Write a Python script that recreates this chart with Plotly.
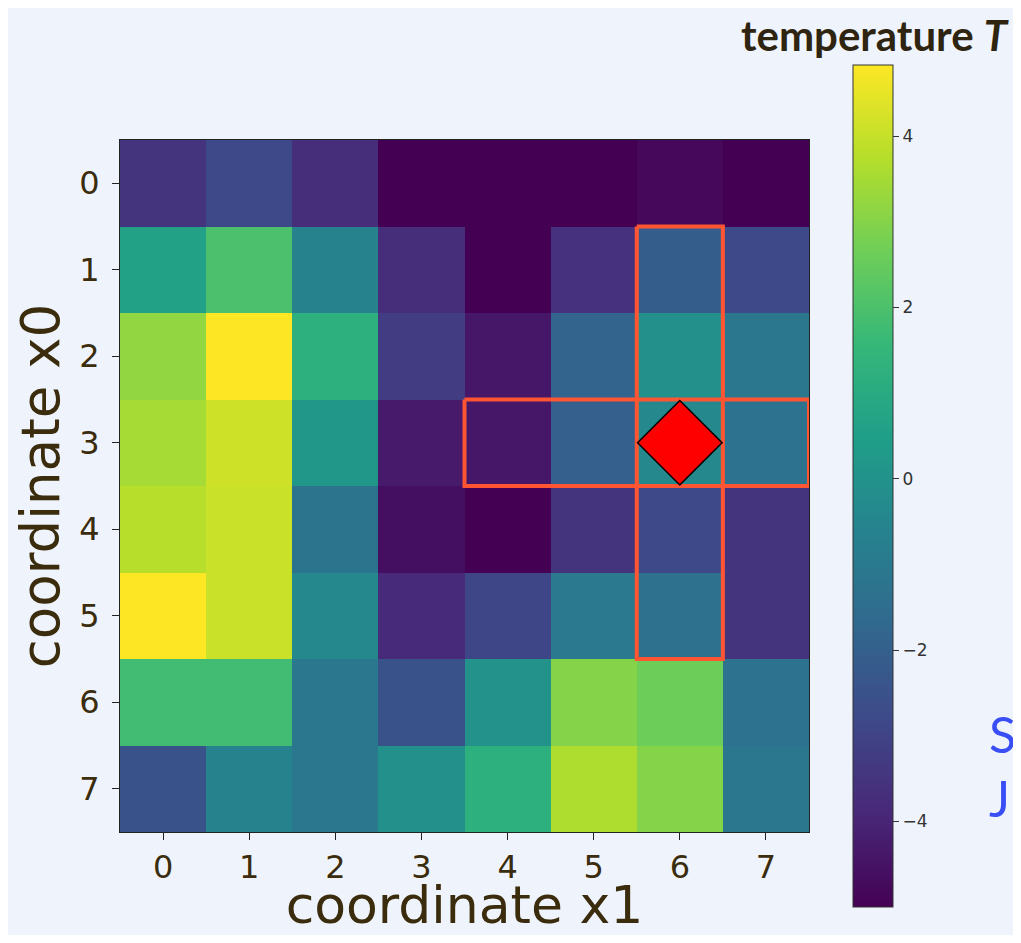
import plotly.graph_objects as go

# ---- data ----
x_labels = [0, 1, 2, 3, 4, 5, 6, 7]   # coordinate x1 (columns)
y_labels = [0, 1, 2, 3, 4, 5, 6, 7]   # coordinate x0 (rows)
temperature = [
    [-3.5, -2.8, -3.7, -5.0, -5.0, -5.0, -4.8, -5.0],
    [0.6, 2.0, -0.6, -3.7, -5.0, -3.6, -2.1, -2.8],
    [3.2, 4.83, 1.2, -3.2, -4.4, -1.85, -0.1, -1.1],
    [3.5, 4.1, 0.2, -4.3, -4.4, -2.05, -0.4, -1.3],
    [3.75, 4.05, -1.2, -4.6, -5.0, -3.5, -2.8, -3.5],
    [4.83, 4.05, -0.4, -3.8, -2.9, -1.0, -1.35, -3.5],
    [1.8, 1.8, -1.1, -2.5, 0.0, 3.0, 2.6, -1.3],
    [-2.5, -0.6, -1.1, -0.1, 1.2, 3.65, 3.0, -1.1],
]
marker_row = [3]
marker_col = [6]
row_span_cols = [4, 7]   # highlighted row 3 spans columns 4..7
col_span_rows = [1, 5]   # highlighted column 6 spans rows 1..5
cbar_ticks = [-4, -2, 0, 2, 4]
cbar_ticktext = ["\u22124", "\u22122", "0", "2", "4"]
z_min, z_max = -5.0, 4.83

TXT = "#3a2c0c"
HL = "#ff5533"

fig = go.Figure()
fig.add_trace(go.Heatmap(
    z=temperature, x=x_labels, y=y_labels,
    colorscale="Viridis", zmin=z_min, zmax=z_max,
    colorbar=dict(
        x=1.0639, xanchor="left", xref="paper",
        y=0.5, yanchor="middle",
        len=842, lenmode="pixels", thickness=40, ypad=0, xpad=0,
        outlinewidth=1, outlinecolor="#333",
        tickvals=cbar_ticks, ticktext=cbar_ticktext,
        ticks="outside", ticklen=6, tickcolor="#333",
        tickfont=dict(family="DejaVu Sans", size=17, color="#333"),
    ),
    showscale=True,
))

# highlighted row rectangle
r = marker_row[0]
xs = [row_span_cols[0] - 0.5, row_span_cols[1] + 0.5, row_span_cols[1] + 0.5, row_span_cols[0] - 0.5, row_span_cols[0] - 0.5]
ys = [r - 0.5, r - 0.5, r + 0.5, r + 0.5, r - 0.5]
fig.add_trace(go.Scatter(x=xs, y=ys, mode="lines", line=dict(color=HL, width=4), showlegend=False, hoverinfo="skip"))
# highlighted column rectangle
c = marker_col[0]
xs = [c - 0.5, c + 0.5, c + 0.5, c - 0.5, c - 0.5]
ys = [col_span_rows[0] - 0.5, col_span_rows[0] - 0.5, col_span_rows[1] + 0.5, col_span_rows[1] + 0.5, col_span_rows[0] - 0.5]
fig.add_trace(go.Scatter(x=xs, y=ys, mode="lines", line=dict(color=HL, width=4), showlegend=False, hoverinfo="skip"))
# marker
fig.add_trace(go.Scatter(x=marker_col, y=marker_row, mode="markers",
                         marker=dict(symbol="diamond", size=65, color="red", line=dict(color="black", width=1.5)),
                         showlegend=False, cliponaxis=False))

axis_common = dict(
    tickmode="array", range=[-0.5, 7.5],
    ticks="outside", ticklen=7, tickcolor="#222",
    showline=True, linecolor="#222", linewidth=1, mirror=True,
    showgrid=False, zeroline=False, automargin=False,
    tickfont=dict(family="DejaVu Sans", size=32, color=TXT),
)
fig.update_xaxes(**axis_common, tickvals=x_labels,
                 title=dict(text="coordinate x1", font=dict(family="DejaVu Sans", size=52, color=TXT), standoff=10))
fig.update_yaxes(**axis_common, tickvals=y_labels, ticklabelstandoff=6,
                 title=dict(text="coordinate x0", font=dict(family="DejaVu Sans", size=53, color=TXT), standoff=2))
fig.update_yaxes(range=[7.5, -0.5])

fig.add_annotation(text="temperature <i>T</i>", xref="paper", yref="paper",
                   x=1.2925, y=1.1908, xanchor="right", yanchor="top", showarrow=False,
                   font=dict(family="Lato", size=42, color="#2e2410", weight="bold"))
fig.add_annotation(text="S", xref="paper", yref="paper", x=1.258, y=0.1416,
                   xanchor="left", yanchor="middle", showarrow=False,
                   font=dict(family="Lato", size=50, color="#3a4ef5"))
fig.add_annotation(text="J", xref="paper", yref="paper", x=1.258, y=0.049,
                   xanchor="left", yanchor="middle", showarrow=False,
                   font=dict(family="Lato", size=50, color="#3a4ef5"))

fig.update_layout(
    width=1005, height=927,
    margin=dict(l=112, r=204, t=132, b=103),
    paper_bgcolor="#eff4fc", plot_bgcolor="#eff4fc",
    showlegend=False,
)
fig.write_html("out.html")
